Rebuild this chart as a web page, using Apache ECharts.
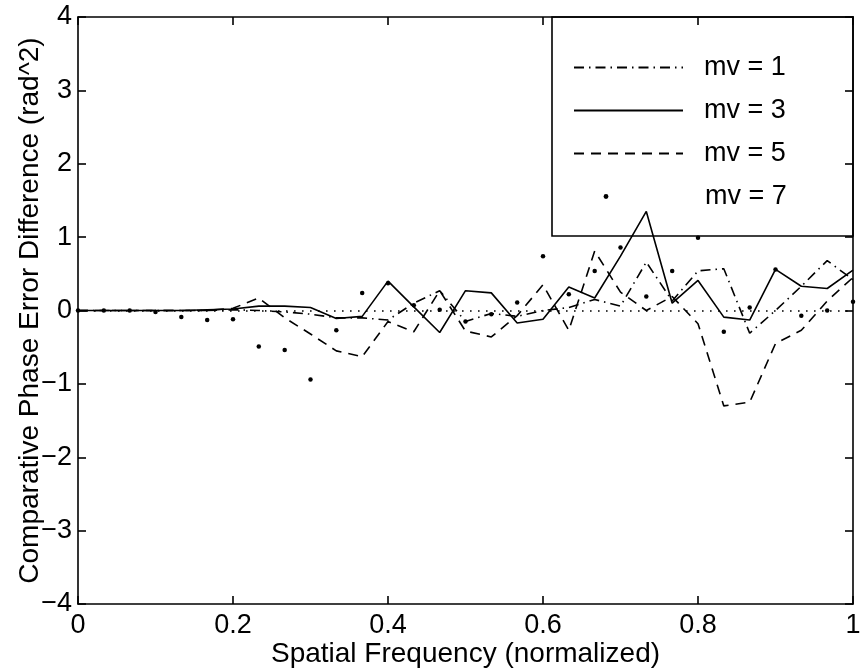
<!DOCTYPE html>
<html>
<head>
<meta charset="utf-8">
<script src="https://cdn.jsdelivr.net/npm/echarts@6/dist/echarts.min.js"></script>
<style>
  html, body { margin: 0; padding: 0; background: #fff; }
  #chart { width: 861px; height: 671px; }
</style>
</head>
<body>
<div id="chart"></div>
<script>
// spatial frequency samples (normalized)
const freq = [0, 0.0333, 0.0667, 0.1, 0.1333, 0.1667, 0.2, 0.2333, 0.2667, 0.3, 0.3333,
  0.3667, 0.4, 0.4333, 0.4667, 0.5, 0.5333, 0.5667, 0.6, 0.6333, 0.6667,
  0.7, 0.7333, 0.7667, 0.8, 0.8333, 0.8667, 0.9, 0.9333, 0.9667, 1];

// comparative phase error difference, one list per mv
const mv1 = [0, 0, 0, 0, 0, 0, 0.01, 0, -0.02, -0.05, -0.1,
  -0.1, -0.13, 0.1, 0.27, -0.15, -0.04, -0.08, 0, 0.04, 0.15,
  0.06, 0.66, 0.13, 0.54, 0.57, -0.31, 0, 0.33, 0.68, 0.42];
const mv3 = [0, 0, 0, 0, 0, 0.01, 0.02, 0.06, 0.06, 0.04, -0.11,
  -0.08, 0.4, 0.05, -0.3, 0.27, 0.24, -0.17, -0.12, 0.32, 0.17,
  0.74, 1.35, 0.1, 0.41, -0.09, -0.13, 0.56, 0.33, 0.3, 0.55];
const mv5 = [0, 0, 0, 0, 0, 0, 0.03, 0.17, -0.1, -0.32, -0.55,
  -0.63, -0.15, -0.29, 0.27, -0.28, -0.36, -0.07, 0.35, -0.27, 0.81,
  0.25, 0, 0.19, -0.18, -1.3, -1.25, -0.45, -0.27, 0.13, 0.45];
const mv7 = [0, 0, 0, -0.02, -0.09, -0.13, -0.12, -0.49, -0.54, -0.94, -0.27,
  0.24, 0.37, 0.07, 0.01, -0.15, -0.05, 0.11, 0.74, 0.22, 0.54,
  0.86, 0.19, 0.54, 0.99, -0.29, 0.04, 0.56, -0.07, 0, 0.12];

const names = ["mv = 1", "mv = 3", "mv = 5", "mv = 7"];
const xTicks = [0, 0.2, 0.4, 0.6, 0.8, 1];

const FONT = "Liberation Sans, Arial, Helvetica, sans-serif";
const LW = 1.6;
const pairs = ys => freq.map((x, i) => [x, ys[i]]);

const chart = echarts.init(document.getElementById("chart"), null, { renderer: "canvas" });

const baseX = {
  type: "value", min: 0, max: 1, interval: 0.2,
  axisLine: { show: true, onZero: false, lineStyle: { color: "#000", width: LW } },
  axisTick: { show: true, inside: true, length: 8, lineStyle: { color: "#000", width: LW } },
  splitLine: { show: false }
};
const baseY = {
  type: "value", min: -4, max: 4, interval: 1,
  axisLine: { show: true, onZero: false, lineStyle: { color: "#000", width: LW } },
  axisTick: { show: true, inside: true, length: 8, lineStyle: { color: "#000", width: LW } },
  splitLine: { show: false }
};

const lineSeries = (name, ys, type) => ({
  name, type: "line", data: pairs(ys),
  symbol: "none",
  lineStyle: { color: "#000", width: LW, type },
  itemStyle: { color: "#000" }
});

const legendText = pad => ({
  color: "#000", fontSize: 27, fontFamily: FONT, lineHeight: 27, padding: [0, 0, 0, pad]
});

chart.setOption({
  backgroundColor: "#fff",
  animation: false,
  grid: { left: 78, right: 8, top: 17, bottom: 67, outerBoundsMode: "none" },
  xAxis: [
    Object.assign({}, baseX, {
      position: "bottom",
      name: "Spatial Frequency (normalized)",
      nameLocation: "middle", nameGap: 36, nameMoveOverlap: false,
      nameTextStyle: { color: "#000", fontSize: 28, fontFamily: FONT },
      axisLabel: {
        color: "#000", fontSize: 27, fontFamily: FONT, margin: 8,
        formatter: v => String(xTicks.find(t => Math.abs(t - v) < 1e-6) ?? v)
      }
    }),
    Object.assign({}, baseX, { position: "top", axisLabel: { show: false } })
  ],
  yAxis: [
    Object.assign({}, baseY, {
      position: "left",
      name: "Comparative Phase Error Difference (rad^2)",
      nameLocation: "middle", nameGap: 34, nameRotate: 90, nameMoveOverlap: false,
      nameTextStyle: { color: "#000", fontSize: 28, fontFamily: FONT },
      axisLabel: {
        color: "#000", fontSize: 27, fontFamily: FONT, margin: 6,
        formatter: v => (v < 0 ? "\u2212" + Math.abs(v) : String(v))
      }
    }),
    Object.assign({}, baseY, { position: "right", axisLabel: { show: false } })
  ],
  legend: [{
    orient: "vertical",
    left: 573, top: 54,
    padding: 0,
    itemWidth: 109, itemHeight: 6, itemGap: 16,
    textStyle: legendText(16),
    data: [
      { name: names[0], itemStyle: { opacity: 0 } },
      { name: names[1], itemStyle: { opacity: 0 } },
      { name: names[2], itemStyle: { opacity: 0 } }
    ]
  }, {
    orient: "vertical",
    left: 573, top: 183,
    padding: 0,
    itemWidth: 66, itemHeight: 6,
    textStyle: legendText(61),
    data: [{ name: names[3] }]
  }],
  graphic: [{
    type: "rect", z: 100,
    shape: { x: 552, y: 17, width: 301, height: 219 },
    style: { fill: "none", stroke: "#000", lineWidth: LW }
  }],
  series: [
    lineSeries(names[0], mv1, [10, 5, 1.5, 5]),
    lineSeries(names[1], mv3, "solid"),
    lineSeries(names[2], mv5, [10, 7]),
    {
      name: names[3], type: "line", data: pairs(mv7),
      symbol: "circle", symbolSize: 4.5, showSymbol: true,
      lineStyle: { width: 0, opacity: 0, color: "#000" },
      itemStyle: { color: "#000" }
    },
    {
      name: "zero", type: "line", data: [],
      markLine: {
        silent: true, symbol: ["none", "none"],
        label: { show: false },
        lineStyle: { color: "#000", width: 1.6, type: [1.6, 6.4] },
        data: [{ yAxis: 0 }]
      }
    }
  ]
});
</script>
</body>
</html>
